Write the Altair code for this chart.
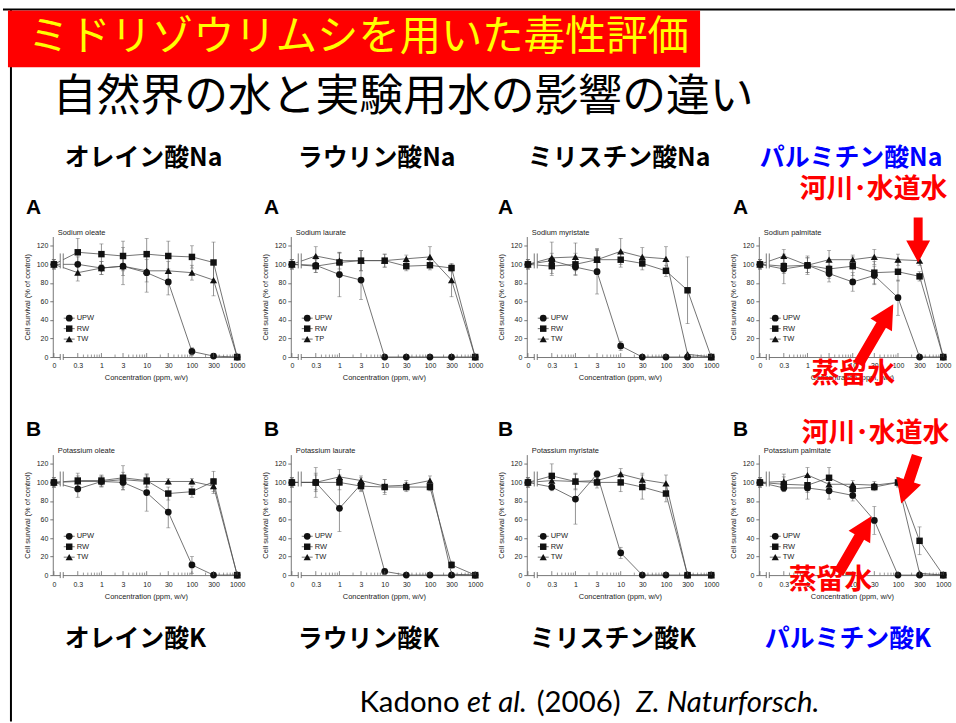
import math
import altair as alt
import pandas as pd

# ---------------------------------------------------------------- data
CONC = [0, 0.3, 1, 3, 10, 30, 100, 300, 1000]
CONC_LABELS = ["0", "0.3", "1", "3", "10", "30", "100", "300", "1000"]
MINOR_CONC = [0.4, 0.5, 0.6, 0.7, 0.8, 0.9,
              2, 4, 5, 6, 7, 8, 9,
              20, 40, 50, 60, 70, 80, 90,
              200, 400, 500, 600, 700, 800, 900]
Y_TICKS = [0, 20, 40, 60, 80, 100, 120]
SYMBOLS = ["circle", "square", "triangle-up"]
SYMBOL_SIZES = [46, 42, 52]

# Sodium salts (row A): mean cell survival and SD, % of control
na_oleate_mean = {"UPW": [100, 100, 96, 98, 91, 81, 6, 1, 0],
                  "RW": [100, 113, 111, 109, 111, 109, 108, 102, 0],
                  "TW": [100, 91, 96, 98, 93, 93, 91, 83, 0]}
na_oleate_sd = {"UPW": [5, 8, 7, 20, 21, 14, 4, 0, 0],
                "RW": [5, 15, 11, 16, 17, 16, 12, 22, 0],
                "TW": [5, 9, 7, 10, 12, 10, 8, 17, 0]}

na_laurate_mean = {"UPW": [100, 99, 89, 83, 0, 0, 0, 0, 0],
                   "RW": [100, 98, 102, 104, 104, 98, 99, 96, 0],
                   "TP": [100, 109, 104, 104, 104, 106, 108, 83, 0]}
na_laurate_sd = {"UPW": [5, 8, 24, 21, 0, 0, 0, 0, 0],
                 "RW": [5, 7, 10, 11, 7, 5, 5, 4, 0],
                 "TP": [5, 10, 9, 11, 7, 4, 11, 18, 0]}

na_myristate_mean = {"UPW": [100, 104, 97, 92, 12, 0, 0, 0, 0],
                     "RW": [100, 98, 100, 105, 105, 101, 93, 72, 0],
                     "TW": [100, 107, 108, 105, 114, 108, 106, 3, 0]}
na_myristate_sd = {"UPW": [5, 8, 8, 24, 5, 0, 0, 0, 0],
                   "RW": [5, 10, 12, 12, 8, 7, 6, 36, 0],
                   "TW": [5, 17, 15, 10, 14, 10, 13, 0, 0]}

na_palmitate_mean = {"UPW": [100, 95, 99, 90, 81, 88, 64, 0, 0],
                     "RW": [100, 98, 99, 95, 98, 91, 92, 87, 0],
                     "TW": [100, 109, 99, 105, 105, 108, 105, 104, 0]}
na_palmitate_sd = {"UPW": [5, 16, 8, 9, 10, 10, 19, 0, 0],
                   "RW": [5, 8, 10, 10, 10, 12, 10, 5, 0],
                   "TW": [5, 7, 8, 10, 5, 8, 6, 5, 0]}

# Potassium salts (row B)
k_oleate_mean = {"UPW": [100, 93, 101, 100, 89, 68, 11, 0, 0],
                 "RW": [100, 102, 102, 105, 102, 88, 90, 101, 0],
                 "TW": [100, 101, 101, 103, 101, 101, 101, 96, 0]}
k_oleate_sd = {"UPW": [5, 9, 6, 8, 20, 17, 9, 0, 0],
               "RW": [5, 8, 6, 13, 7, 7, 6, 11, 0],
               "TW": [5, 6, 5, 8, 6, 3, 3, 8, 0]}

k_laurate_mean = {"UPW": [100, 100, 72, 98, 4, 0, 0, 0, 0],
                  "RW": [100, 100, 100, 96, 95, 95, 95, 11, 0],
                  "TW": [100, 100, 106, 102, 96, 97, 102, 1, 0]}
k_laurate_sd = {"UPW": [5, 16, 25, 7, 2, 0, 0, 0, 0],
                "RW": [5, 10, 8, 6, 8, 5, 4, 4, 0],
                "TW": [5, 8, 8, 5, 7, 5, 5, 0, 0]}

k_myristate_mean = {"UPW": [100, 95, 82, 109, 24, 0, 0, 0, 0],
                    "RW": [100, 107, 101, 100, 100, 95, 88, 0, 0],
                    "TW": [100, 102, 101, 102, 109, 103, 99, 0, 0]}
k_myristate_sd = {"UPW": [5, 4, 27, 4, 6, 0, 0, 0, 0],
                  "RW": [5, 13, 9, 6, 10, 13, 9, 0, 0],
                  "TW": [5, 8, 8, 5, 6, 7, 9, 0, 0]}

k_palmitate_mean = {"UPW": [100, 94, 94, 91, 86, 59, 0, 0, 0],
                    "RW": [100, 98, 97, 105, 93, 95, 100, 37, 0],
                    "TW": [100, 101, 108, 98, 98, 97, 100, 2, 0]}
k_palmitate_sd = {"UPW": [5, 4, 12, 9, 6, 15, 0, 0, 0],
                  "RW": [5, 8, 8, 11, 5, 4, 5, 15, 0],
                  "TW": [5, 8, 8, 6, 4, 4, 4, 0, 0]}

# ---------------------------------------------------------------- text
TITLE = "ミドリゾウリムシを用いた毒性評価"
SUBTITLE = "自然界の水と実験用水の影響の違い"
NA_LABELS = ["オレイン酸Na", "ラウリン酸Na", "ミリスチン酸Na", "パルミチン酸Na"]
K_LABELS = ["オレイン酸K", "ラウリン酸K", "ミリスチン酸K", "パルミチン酸K"]
NA_TITLES = ["Sodium oleate", "Sodium laurate", "Sodium myristate", "Sodium palmitate"]
K_TITLES = ["Potassium oleate", "Potassium laurate", "Potassium myristate", "Potassium palmitate"]
NOTE_NATURAL = "河川･水道水"
NOTE_DISTILLED = "蒸留水"
CITATION_PARTS = ["Kadono", "et al.", "(2006)", "Z. Naturforsch."]

# ---------------------------------------------------------------- layout
JP = "Noto Sans CJK JP"
SANS = "Liberation Sans"
RED = "#FF0000"
BLUE = "#0000FF"
PLOT_W, PLOT_H = 187, 121
ZERO_POS = -1.05                    # position of the control (0 ppm) on the broken log axis
X_DOMAIN = [-1.075, 3.04]
Y_DOMAIN = [0, 130]
COL_X = [50, 289, 526, 759]         # left edge of each plot column
ROW_Y = [236, 455]                  # top edge of each plot row
HEADER_H = ROW_Y[0]
ROW_STEP = ROW_Y[1] - ROW_Y[0]      # a nested row takes no height in a flush layout


def xpos(c):
    return ZERO_POS if c == 0 else math.log10(c)


def one(txt):
    return pd.DataFrame({"t": [txt]})


def text_at(txt, x, y, **kw):
    return alt.Chart(one(txt)).mark_text(**kw).encode(
        x=alt.value(x), y=alt.value(y), text="t:N")


def arrow_path(length, shaft, head_w, head_l):
    """Filled block arrow pointing up inside the unit square [-1, 1]."""
    s = 2.0 / length
    a, b, hb = shaft / 2 * s, head_w / 2 * s, -1 + head_l * s
    pts = [(-a, 1), (a, 1), (a, hb), (b, hb), (0, -1), (-b, hb), (-a, hb)]
    return "M " + " L ".join(f"{px:.3f} {py:.3f}" for px, py in pts) + " Z"


def arrow(tail, tip, ox, oy, shaft=11, head_w=25, head_l=24):
    (x1, y1), (x2, y2) = tail, tip
    length = math.hypot(x2 - x1, y2 - y1)
    ang = math.degrees(math.atan2(x2 - x1, -(y2 - y1))) % 360
    return alt.Chart(one("")).mark_point(
        shape=arrow_path(length, shaft, head_w, head_l), size=length * length,
        angle=ang, filled=True, fill=RED, stroke=None, opacity=1,
    ).encode(x=alt.value((x1 + x2) / 2 - ox), y=alt.value((y1 + y2) / 2 - oy))


label_expr = f"'{CONC_LABELS[-1]}'"
for c, lab in reversed(list(zip(CONC, CONC_LABELS))[:-1]):
    label_expr = f"abs(datum.value - ({xpos(c):.4f})) < 0.01 ? '{lab}' : " + label_expr

x_scale = alt.Scale(domain=X_DOMAIN, nice=False, zero=False)
y_scale = alt.Scale(domain=Y_DOMAIN, nice=False)
x_axis = alt.Axis(values=[xpos(c) for c in CONC], labelExpr=label_expr, ticks=False,
                  labelFlush=False, labelOverlap=False, labelPadding=5,
                  title="Concentration (ppm, w/v)", titlePadding=5, grid=False)
y_axis = alt.Axis(values=Y_TICKS, tickSize=3, labelPadding=2,
                  title="Cell survival (% of control)", titlePadding=5, grid=False)


def panel(title, means, sds, ox, oy, notes=()):
    names = list(means.keys())
    rows = []
    for name, sym, sz in zip(names, SYMBOLS, SYMBOL_SIZES):
        for c, m, s in zip(CONC, means[name], sds[name]):
            rows.append({"series": name, "sym": sym, "sz": sz, "lx": xpos(c),
                         "mean": m, "lo": m - s, "hi": m + s, "sd": s})
    df = pd.DataFrame(rows)
    base = alt.Chart(df)
    X = alt.X("lx:Q", scale=x_scale, axis=x_axis)

    lines = base.mark_line(color="#505050", strokeWidth=0.8).encode(
        x=X, y=alt.Y("mean:Q", scale=y_scale, axis=y_axis), detail="series:N")
    bars = base.transform_filter("datum.sd > 0").mark_rule(
        color="#666", strokeWidth=0.7).encode(
        x=X, y=alt.Y("lo:Q", scale=y_scale, axis=y_axis), y2="hi:Q")
    cap_lo = base.transform_filter("datum.sd > 0").mark_tick(
        orient="horizontal", size=4, thickness=0.7, color="#666").encode(
        x=X, y=alt.Y("lo:Q", scale=y_scale, axis=y_axis))
    cap_hi = base.transform_filter("datum.sd > 0").mark_tick(
        orient="horizontal", size=4, thickness=0.7, color="#666").encode(
        x=X, y=alt.Y("hi:Q", scale=y_scale, axis=y_axis))
    pts = base.mark_point(filled=True, color="#111", opacity=1).encode(
        x=X, y=alt.Y("mean:Q", scale=y_scale, axis=y_axis),
        shape=alt.Shape("sym:N", scale=None), size=alt.Size("sz:Q", scale=None))

    # axis break on the lines and on the x axis
    brk = []
    for ya, yb in [(17, 32), (PLOT_H - 3, PLOT_H + 3)]:
        brk.append(alt.Chart(one("")).mark_rect(fill="white").encode(
            x=alt.value(7.5), x2=alt.value(10.5), y=alt.value(ya), y2=alt.value(yb)))
        for bx in (7.5, 10.5):
            brk.append(alt.Chart(one("")).mark_rule(color="#555", strokeWidth=0.8).encode(
                x=alt.value(bx), y=alt.value(ya), y2=alt.value(yb)))

    # inward log ticks on the x axis
    major = alt.Chart(pd.DataFrame({"lx": [xpos(c) for c in CONC]})).mark_rule(
        color="#555", strokeWidth=0.7).encode(
        x=alt.X("lx:Q", scale=x_scale, axis=x_axis),
        y=alt.value(PLOT_H), y2=alt.value(PLOT_H - 4))
    minor = alt.Chart(pd.DataFrame({"lx": [math.log10(c) for c in MINOR_CONC]})).mark_rule(
        color="#555", strokeWidth=0.6).encode(
        x=alt.X("lx:Q", scale=x_scale, axis=x_axis),
        y=alt.value(PLOT_H), y2=alt.value(PLOT_H - 2.5))

    # key in the lower left corner
    key = pd.DataFrame({"name": names, "sym": SYMBOLS, "sz": SYMBOL_SIZES,
                        "py": [PLOT_H - 39, PLOT_H - 28.5, PLOT_H - 18]})
    KY = alt.Y("py:Q", scale=None, axis=None)
    key_line = alt.Chart(key).mark_rule(color="#505050", strokeWidth=0.8).encode(
        x=alt.value(11), x2=alt.value(22), y=KY)
    key_pt = alt.Chart(key).mark_point(filled=True, color="#111", opacity=1).encode(
        x=alt.value(16.5), y=KY, shape=alt.Shape("sym:N", scale=None),
        size=alt.Size("sz:Q", scale=None))
    key_txt = alt.Chart(key).mark_text(align="left", baseline="middle", font=SANS,
                                       fontSize=7.5, color="#222").encode(
        x=alt.value(24), y=KY, text="name:N")

    ttl = text_at(title, 5, -4, align="left", baseline="middle", font=SANS,
                  fontSize=7.5, color="#222")

    layers = [lines, bars, cap_lo, cap_hi, pts, *brk, major, minor,
              key_line, key_pt, key_txt, ttl]

    for kind, *args in notes:
        if kind == "text":
            txt, x, y, size = args
            layers.append(text_at(txt, x - ox, y - oy, align="left", baseline="middle",
                                  font=JP, fontWeight="bold", fontSize=size, color=RED))
        else:
            tail, tip, shaft, hw, hl = args
            layers.append(arrow(tail, tip, ox, oy, shaft, hw, hl))

    return alt.layer(*layers).properties(width=PLOT_W, height=PLOT_H)


def spacer(w, h):
    return alt.Chart(one("")).mark_point(opacity=0).encode(
        x=alt.value(0), y=alt.value(0)).properties(width=w, height=h)


def panel_row(titles, means, sds, oy, notes):
    views = []
    prev_right = 0
    for i, (t, m, s) in enumerate(zip(titles, means, sds)):
        views.append(spacer(COL_X[i] - prev_right, PLOT_H))
        views.append(panel(t, m, s, COL_X[i], oy, notes if i == 3 else ()))
        prev_right = COL_X[i] + PLOT_W
    return alt.hconcat(*views, spacing=0, bounds="flush")


top_notes = [
    ("text", NOTE_NATURAL, 800, 189, 27),
    ("arrow", (919, 217), (919, 262), 9, 24, 22),
    ("text", NOTE_DISTILLED, 812, 375, 28),
    ("arrow", (859, 364), (894, 304), 11, 25, 24),
]
bottom_notes = [
    ("text", NOTE_NATURAL, 802, 434, 27),
    ("arrow", (918, 456), (902, 504), 11, 26, 24),
    ("text", NOTE_DISTILLED, 789, 582, 28),
    ("arrow", (839, 574), (872, 517), 11, 25, 24),
]

row_a = panel_row(NA_TITLES,
                  [na_oleate_mean, na_laurate_mean, na_myristate_mean, na_palmitate_mean],
                  [na_oleate_sd, na_laurate_sd, na_myristate_sd, na_palmitate_sd],
                  ROW_Y[0], top_notes)
row_b = panel_row(K_TITLES,
                  [k_oleate_mean, k_laurate_mean, k_myristate_mean, k_palmitate_mean],
                  [k_oleate_sd, k_laurate_sd, k_myristate_sd, k_palmitate_sd],
                  ROW_Y[1], bottom_notes)

# ---------------------------------------------------------------- slide frame and headings
head = [
    alt.Chart(one("")).mark_rect(fill="white").encode(
        x=alt.value(0), x2=alt.value(956), y=alt.value(0), y2=alt.value(723)),
    alt.Chart(one("")).mark_rule(color="black", strokeWidth=2).encode(
        x=alt.value(0), x2=alt.value(956), y=alt.value(8)),
    alt.Chart(one("")).mark_rule(color="black", strokeWidth=2).encode(
        x=alt.value(8), y=alt.value(8), y2=alt.value(723)),
    alt.Chart(one("")).mark_rect(fill=RED).encode(
        x=alt.value(5), x2=alt.value(700), y=alt.value(9), y2=alt.value(66)),
    text_at(TITLE, 25, 37, align="left", baseline="middle", font=JP,
            fontSize=41.5, color="#FFFF00"),
    text_at(SUBTITLE, 50, 97, align="left", baseline="middle", font=JP,
            fontSize=44, color="black"),
]
for lab, x in zip(NA_LABELS, [62, 296, 527, 760]):
    head.append(text_at(lab, x, 157, align="left", baseline="middle", font=JP,
                        fontWeight="bold", fontSize=25,
                        color=BLUE if lab.startswith("パルミチン") else "black"))
for lab, x in zip(K_LABELS, [62, 296, 529, 765]):
    head.append(text_at(lab, x, 640, align="left", baseline="middle", font=JP,
                        fontWeight="bold", fontSize=25,
                        color=BLUE if lab.startswith("パルミチン") else "black"))
for x in [23, 262, 497, 733]:
    head.append(text_at("A", x, 213, align="left", baseline="alphabetic", font=SANS,
                        fontWeight="bold", fontSize=21, color="black"))
    head.append(text_at("B", x, 436, align="left", baseline="alphabetic", font=SANS,
                        fontWeight="bold", fontSize=21, color="black"))
for part, x in zip(CITATION_PARTS, [358, 466, 536, 636]):
    head.append(text_at(part, x, 713, align="left", baseline="alphabetic", font="Lato",
                        fontSize=29.5, color="black",
                        fontStyle="normal" if part in ("Kadono", "(2006)") else "italic"))

header = alt.layer(*head).properties(width=956, height=HEADER_H)

chart = alt.vconcat(
    header, row_a, spacer(10, ROW_STEP), row_b, spacing=0, bounds="flush",
).properties(padding=0).configure_view(stroke=None).configure_axis(
    domainColor="#555", domainWidth=0.8, tickColor="#555", tickWidth=0.8,
    labelColor="#222", labelFont=SANS, labelFontSize=7,
    titleFont=SANS, titleFontSize=7.5, titleFontWeight="normal", titleColor="#222",
)

chart.save("out.html", embed_options={"renderer": "svg", "actions": False})
